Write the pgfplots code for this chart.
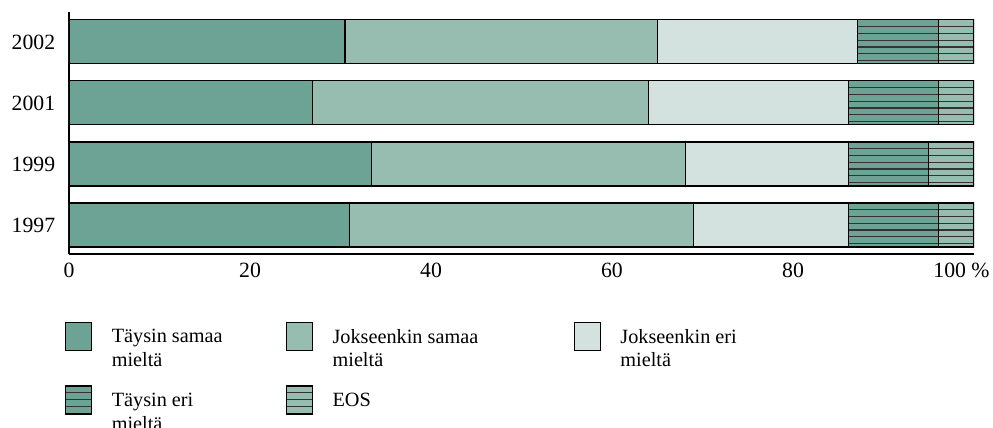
\documentclass[border=0pt]{standalone}
\usepackage{pgfplots}
\pgfplotsset{compat=1.18}
\usepackage{fontspec}
\setmainfont{Liberation Serif}

\definecolor{tdark}{RGB}{109,163,149}
\definecolor{tmid}{RGB}{151,188,176}
\definecolor{tlight}{RGB}{212,226,223}
\colorlet{hatchcol}{black!80}

% horizontal hatching: lines every 2.711pt from the top (bar pitch 24.4pt = 9 lines), clipped to the bars
\tikzset{hatch/.style={path picture={
  \pgfsetlinewidth{0.45pt}%
  \pgfsetstrokecolor{hatchcol}%
  \foreach \k in {1,...,36}{%
    \pgfpathmoveto{\pgfpointadd{\pgfpointanchor{path picture bounding box}{north west}}{\pgfpoint{0pt}{-\k*2.7111pt}}}%
    \pgfpathlineto{\pgfpointadd{\pgfpointanchor{path picture bounding box}{north east}}{\pgfpoint{0pt}{-\k*2.7111pt}}}%
  }%
  \pgfusepath{stroke}}}}

\begin{document}
\begin{tikzpicture}
\path[use as bounding box] (-27.6pt,-69.6pt) rectangle (369.6pt,101.6pt);
\begin{axis}[
  at={(0pt,0pt)}, anchor=south west,
  scale only axis, width=362pt, height=96.8pt,
  xbar stacked, bar width=17.6pt,
  xmin=0, xmax=100, ymin=-0.475, ymax=3.49,
  axis x line=bottom, axis y line=left,
  axis line style={-, line width=0.9pt},
  major tick length=0pt,
  xtick={0,20,40,60,80}, xticklabels={0,20,40,60,80},
  extra x ticks={100}, extra x tick labels={100 \%},
  extra x tick style={xticklabel style={xshift=-5pt}},
  ytick={0,1,2,3}, yticklabels={1997,1999,2001,2002},
  yticklabel style={xshift=-2pt},
  /pgf/number format/assume math mode=true,
  tick label style={font=\fontsize{8.7}{10}\selectfont},
  every axis plot/.append style={draw=black, line width=0.45pt},
  legend columns=3,
  legend style={draw=none, fill=none, inner sep=0pt, outer sep=0pt,
    /tikz/column sep=0pt, /tikz/row sep=13.4pt,
    at={(axis description cs:0,0)}, anchor=north west,
    xshift=-1.6pt, yshift=-27pt,
    font=\fontsize{8.1}{9.5}\selectfont},
  legend cell align=left,
  legend image code/.code={\draw[#1] (0pt,-4.8pt) rectangle (10.4pt,6.4pt);
    \path[draw=none,fill=none] (0pt,0pt) -- (16.5pt,0pt);},
]
\addplot[fill=tdark] coordinates {(31.0,0) (33.4,1) (26.9,2) (30.5,3)};
\addplot[fill=tmid] coordinates {(38.0,0) (34.7,1) (37.1,2) (34.5,3)};
\addplot[fill=tlight] coordinates {(17.1,0) (18.0,1) (22.1,2) (22.1,3)};
\addplot[fill=tdark, hatch] coordinates {(10.0,0) (8.9,1) (10.0,2) (9.0,3)};
\addplot[fill=tmid, hatch] coordinates {(3.9,0) (5.0,1) (3.9,2) (3.9,3)};
\legend{\parbox[t]{67.6pt}{Täysin samaa\\mieltä},
  \parbox[t]{94.4pt}{Jokseenkin samaa\\mieltä},
  \parbox[t]{60pt}{Jokseenkin eri\\mieltä},
  \parbox[t]{67.6pt}{Täysin eri\\mieltä},
  \parbox[t]{94.4pt}{EOS}}
\end{axis}
\end{tikzpicture}
\end{document}
